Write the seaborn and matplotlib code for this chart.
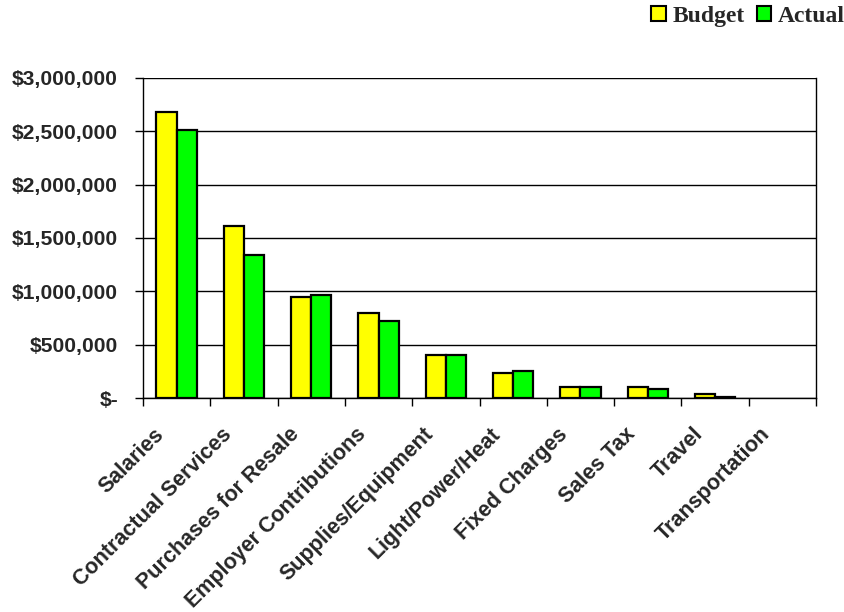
import matplotlib
matplotlib.use("Agg")
import matplotlib.pyplot as plt
from matplotlib.patches import Patch
from matplotlib.ticker import FuncFormatter, FixedLocator
from matplotlib.transforms import ScaledTranslation
import seaborn as sns
import pandas as pd
import numpy as np

categories = [
    "Salaries", "Contractual Services", "Purchases for Resale",
    "Employer Contributions", "Supplies/Equipment", "Light/Power/Heat",
    "Fixed Charges", "Sales Tax", "Travel", "Transportation",
]
budget = [2685000, 1615000, 944000, 797000, 400000, 237000, 106000, 106000, 34000, 0]
actual = [2512000, 1340000, 966000, 725000, 400000, 253000, 106000, 81000, 12000, 0]
series_names = ["Budget", "Actual"]
series_colors = ["#FFFF00", "#00FF00"]

df = pd.DataFrame({
    "category": categories * 2,
    "value": budget + actual,
    "series": [series_names[0]] * len(categories) + [series_names[1]] * len(categories),
})

sns.set_style("white")
plt.rcParams["font.family"] = ["Liberation Sans", "DejaVu Sans"]

fig = plt.figure(figsize=(8.44, 6.12), dpi=100)
ax = fig.add_axes([143 / 844, 1 - 398 / 612, (816 - 143) / 844, (398 - 78) / 612])

sns.barplot(
    data=df, x="category", y="value", hue="series", order=categories,
    hue_order=series_names, palette=series_colors, saturation=1, width=0.6,
    gap=0, edgecolor="black", linewidth=1.6, legend=False, ax=ax, errorbar=None,
)
# empty categories draw nothing
for bar in ax.patches:
    if bar.get_height() == 0:
        bar.set_linewidth(0)

ax.set_xlim(-0.5, len(categories) - 0.5)
ax.set_ylim(0, 3000000)
ax.set_yticks(np.arange(0, 3000001, 500000))
ax.yaxis.set_major_formatter(
    FuncFormatter(lambda v, p: "$-" if v == 0 else f"${v:,.0f}")
)
ax.grid(axis="y", color="black", linewidth=1.0)
ax.set_axisbelow(True)
ax.set_xlabel("")
ax.set_ylabel("")

for side in ["left", "bottom", "right"]:
    ax.spines[side].set_visible(True)
    ax.spines[side].set_color("black")
    ax.spines[side].set_linewidth(1.0)
ax.spines["top"].set_visible(False)

ax.tick_params(axis="y", length=6, width=1, color="black", direction="out",
               labelsize=15.2, pad=12, left=True)
for lbl in ax.get_yticklabels():
    lbl.set_fontweight("bold")

# Category boundaries get tick marks; labels sit at category centres
ax.xaxis.set_minor_locator(FixedLocator(np.arange(-0.5, len(categories), 1.0)))
ax.tick_params(axis="x", which="minor", length=6, width=1, color="black",
               direction="out", bottom=True)
ax.tick_params(axis="x", which="major", length=0, pad=10, labelsize=15.5)
ax.set_xticks(range(len(categories)))
ax.set_xticklabels(categories, rotation=45, ha="right", rotation_mode="anchor",
                   fontweight="bold")
shift = ScaledTranslation(-23 / 100, -12 / 100, fig.dpi_scale_trans)
for lbl in ax.get_xticklabels():
    lbl.set_transform(lbl.get_transform() + shift)

handles = [Patch(facecolor=c, edgecolor="black", linewidth=1.5) for c in series_colors]
fig.legend(handles, series_names, loc="upper right",
           bbox_to_anchor=(845 / 844, 1 - 6 / 612),
           ncol=2, frameon=False, handlelength=0.6, handleheight=0.6,
           handletextpad=0.3, columnspacing=0.5, borderaxespad=0.0,
           borderpad=0.0,
           prop={"family": ["Liberation Serif"], "weight": "bold", "size": 17})

fig.savefig("out.png", dpi=100, facecolor="white")
